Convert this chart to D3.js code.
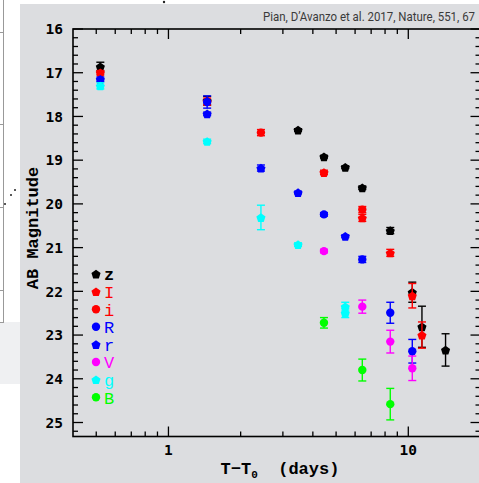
<!DOCTYPE html>
<html>
<head>
<meta charset="utf-8">
<script src="https://cdn.jsdelivr.net/npm/d3@7"></script>
<style>
  body { margin: 0; background: #fff; }
  svg { display: block; }
</style>
</head>
<body>
<div id="chart"></div>
<script>
// photometry per band: [days since T0, AB mag, error]
var zBand = [[0.52,16.86,0.1],[1.45,17.64,0.1],[3.47,18.31,0.03],[4.45,18.92,0.03],[5.46,19.16,0.03],[6.43,19.63,0.04],[8.41,20.61,0.07],[10.39,22.02,0.23],[11.4,22.81,0.47],[14.3,23.34,0.37]];
var IBand = [[0.52,17.0,0.05],[1.45,17.66,0.08],[4.45,19.28,0.05],[6.43,20.32,0.08],[8.41,21.12,0.08],[10.39,22.1,0.28],[11.4,23.0,0.3]];
var iBand = [[2.43,18.37,0.07],[6.43,20.13,0.07]];
var RBand = [[1.45,17.67,0.14],[4.45,20.24,0.04],[6.43,21.27,0.07],[8.41,22.49,0.24],[10.39,23.37,0.27]];
var rBand = [[0.52,17.15,0.05],[1.45,17.94,0.04],[2.43,19.18,0.07],[3.47,19.74,0.03],[5.46,20.74,0.03]];
var VBand = [[4.45,21.08,0.04],[6.43,22.35,0.15],[8.41,23.15,0.26],[10.39,23.76,0.28]];
var gBand = [[0.52,17.3,0.07],[1.45,18.57,0.05],[2.43,20.31,0.28],[3.47,20.93,0.04],[5.46,22.35,0.1],[5.46,22.5,0.1]];
var BBand = [[4.45,22.72,0.12],[6.43,23.8,0.25],[8.41,24.58,0.36]];

var bandNames = ["z","I","i","R","r","V","g","B"];
var bandColors = ["#000000","#ff0000","#ff0000","#0000ff","#0000ff","#ff00ff","#00ffff","#00ff00"];
var bandShapes = ["pent","pent","circ","circ","pent","circ","pent","circ"];
var bandData = [zBand, IBand, iBand, RBand, rBand, VBand, gBand, BBand];

var yMajor = [16,17,18,19,20,21,22,23,24,25];
var xMajor = [1,10];
var xMinor = [0.5,0.6,0.7,0.8,0.9,2,3,4,5,6,7,8,9,20];
var citation = "Pian, D\u2019Avanzo et al. 2017, Nature, 551, 67";

var W = 479, H = 483;
var svg = d3.select("#chart").append("svg").attr("width", W).attr("height", H);

// bits of the neighbouring screenshot on the left
svg.append("rect").attr("x",0).attr("y",322).attr("width",20).attr("height",62).attr("fill","#eff0f2");
svg.append("line").attr("x1",3.5).attr("x2",3.5).attr("y1",0).attr("y2",322).attr("stroke","#999").attr("stroke-width",1);
[32,124,207,290,322].forEach(function(yy){
  svg.append("line").attr("x1",0).attr("x2",4).attr("y1",yy+0.5).attr("y2",yy+0.5).attr("stroke","#999");
});
[[5,204],[11,195],[15,190]].forEach(function(p){
  svg.append("circle").attr("cx",p[0]).attr("cy",p[1]).attr("r",1).attr("fill","#222");
});
svg.append("circle").attr("cx",164).attr("cy",2).attr("r",1.2).attr("fill","#222");

// gray panel
svg.append("rect").attr("x",20).attr("y",4).attr("width",W-20).attr("height",H-4).attr("fill","#dcdde0");

// citation, squeezed horizontally to look condensed
var cite = svg.append("text")
  .attr("x",0).attr("y",0)
  .style("font-family","Roboto, sans-serif").style("font-size","13px")
  .attr("fill","#3a3a3a")
  .text(citation);
var cw = cite.node().getComputedTextLength();
cite.attr("transform","translate(263,21) scale(" + (212/cw) + ",1)");

var pLeft = 73, pRight = 480.5, pTop = 29, pBottom = 436.5;
var x = d3.scaleLog().domain([0.4,20]).range([pLeft,pRight]);
var y = d3.scaleLinear().domain([16,25.32]).range([pTop,pBottom]);

var g = svg.append("g");

// frame
g.append("rect").attr("x",pLeft).attr("y",pTop).attr("width",pRight-pLeft).attr("height",pBottom-pTop)
  .attr("fill","none").attr("stroke","#000").attr("stroke-width",1.6);

// y ticks (left and right, pointing in)
var yMinor = d3.range(16.2,25.3,0.2).filter(function(v){ return Math.abs(v-Math.round(v))>0.01; });
function yTick(v,len){
  g.append("line").attr("x1",pLeft).attr("x2",pLeft+len).attr("y1",y(v)).attr("y2",y(v)).attr("stroke","#000").attr("stroke-width",1.3);
  g.append("line").attr("x1",pRight).attr("x2",pRight-len).attr("y1",y(v)).attr("y2",y(v)).attr("stroke","#000").attr("stroke-width",1.3);
}
yMajor.forEach(function(v){ yTick(v,10); });
yMinor.forEach(function(v){ yTick(v,5); });

function xTick(v,len){
  g.append("line").attr("x1",x(v)).attr("x2",x(v)).attr("y1",pBottom).attr("y2",pBottom-len).attr("stroke","#000").attr("stroke-width",1.3);
  g.append("line").attr("x1",x(v)).attr("x2",x(v)).attr("y1",pTop).attr("y2",pTop+len).attr("stroke","#000").attr("stroke-width",1.3);
}
xMajor.forEach(function(v){ xTick(v,10); });
xMinor.forEach(function(v){ xTick(v,5); });

g.selectAll(".ylab").data(yMajor).enter().append("text")
  .attr("x",63).attr("y",function(d){ return y(d); }).attr("dy","0.36em")
  .attr("text-anchor","end")
  .style("font-family","'DejaVu Sans Mono', monospace").style("font-weight","bold").style("font-size","14.5px")
  .text(function(d){ return d; });

g.selectAll(".xlab").data(xMajor).enter().append("text")
  .attr("x",function(d){ return x(d); }).attr("y",455)
  .attr("text-anchor","middle")
  .style("font-family","'DejaVu Sans Mono', monospace").style("font-weight","bold").style("font-size","14.5px")
  .text(function(d){ return d; });

// axis titles
var xt = g.append("text").attr("x",280).attr("y",474).attr("text-anchor","middle")
  .style("font-family","'Liberation Mono', monospace").style("font-weight","bold").style("font-size","17px");
xt.append("tspan").text("T\u2212T");
xt.append("tspan").attr("dy",4).style("font-size","11px").text("0");
xt.append("tspan").attr("dy",-4).text("\u00a0\u00a0(days)");

g.append("text")
  .attr("transform","translate(38,228) rotate(-90)")
  .attr("text-anchor","middle")
  .style("font-family","'Liberation Mono', monospace").style("font-weight","bold").style("font-size","17px")
  .text("AB Magnitude");

function pentagon(r){
  var pts = d3.range(5).map(function(k){
    var a = -Math.PI/2 + k*2*Math.PI/5;
    return [r*Math.cos(a), r*Math.sin(a) + 0.6];
  });
  return "M" + pts.map(function(p){ return p.join(","); }).join("L") + "Z";
}

function marker(sel, shape, color, cx, cy){
  if (shape === "pent") {
    sel.append("path").attr("d",pentagon(4.8)).attr("transform","translate("+cx+","+cy+")").attr("fill",color);
  } else {
    sel.append("circle").attr("cx",cx).attr("cy",cy).attr("r",4.2).attr("fill",color);
  }
}

// data
bandData.forEach(function(data, bi){
  var col = bandColors[bi];
  var bg = g.append("g");
  data.forEach(function(d){
    var cx = x(d[0]), y1 = y(d[1]-d[2]), y2 = y(d[1]+d[2]);
    bg.append("line").attr("x1",cx).attr("x2",cx).attr("y1",y1).attr("y2",y2).attr("stroke",col).attr("stroke-width",1.4);
    bg.append("line").attr("x1",cx-4).attr("x2",cx+4).attr("y1",y1).attr("y2",y1).attr("stroke",col).attr("stroke-width",1.4);
    bg.append("line").attr("x1",cx-4).attr("x2",cx+4).attr("y1",y2).attr("y2",y2).attr("stroke",col).attr("stroke-width",1.4);
    marker(bg, bandShapes[bi], col, cx, y(d[1]));
  });
});

// legend
var leg = g.append("g");
bandNames.forEach(function(n, i){
  var ly = 274 + i*17.6;
  marker(leg, bandShapes[i], bandColors[i], 96, ly);
  leg.append("text").attr("x",104).attr("y",ly).attr("dy","0.38em")
    .attr("fill",bandColors[i])
    .style("font-family","'Liberation Mono', monospace").style("font-weight", i===0 ? "bold" : "normal").style("font-size","17px")
    .text(n);
});
</script>
</body>
</html>
